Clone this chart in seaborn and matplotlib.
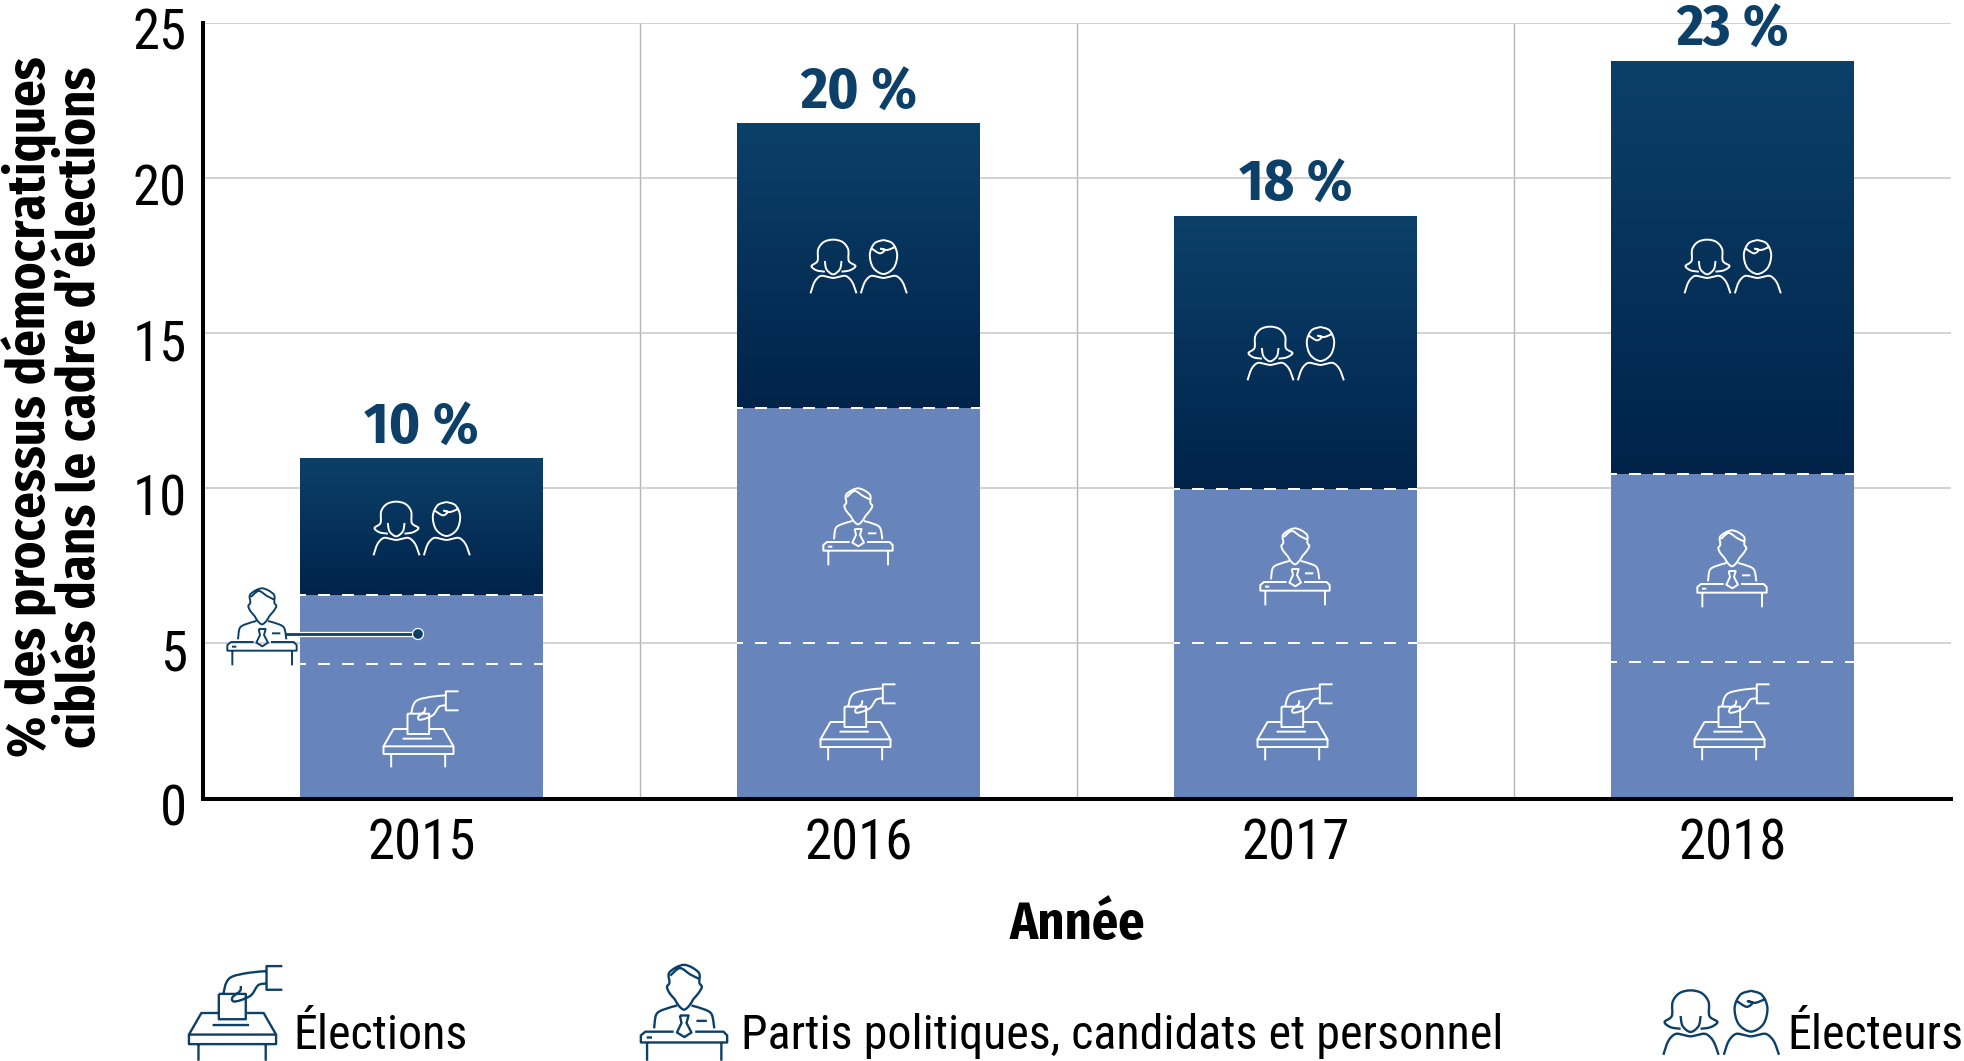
import numpy as np
import pandas as pd
import seaborn as sns
import matplotlib
matplotlib.use("Agg")
import matplotlib.pyplot as plt
from matplotlib.path import Path
from matplotlib.patches import PathPatch, Circle
from matplotlib.colors import LinearSegmentedColormap
from matplotlib.transforms import Affine2D, ScaledTranslation

years = ["2015", "2016", "2017", "2018"]
elections = [4.35, 5.0, 5.0, 4.4]
partis = [2.2, 7.58, 4.98, 6.05]
electeurs = [4.39, 9.16, 8.8, 13.3]
top_labels = ["10 %", "20 %", "18 %", "23 %"]
yticks = [0, 5, 10, 15, 20, 25]
legend_labels = ["Élections", "Partis politiques, candidats et personnel", "Électeurs"]
ylabel = "% des processus démocratiques\nciblés dans le cadre d’élections"
xlabel = "Année"

NAVY = "#0c4069"
NAVY_DK = "#00234a"
BLUE = "#6785ba"
GRID = "#c6c6c6"

sns.set_theme(style="white")
LIGHT = ["Roboto Condensed", "Liberation Sans", "DejaVu Sans"]
BOLD = ["Fira Sans Condensed", "Liberation Sans", "DejaVu Sans"]
plt.rcParams["font.family"] = LIGHT

W, H = 1964, 1061
fig = plt.figure(figsize=(W / 100, H / 100), dpi=100, facecolor="white")
L, R, T, B = 203, 1951, 23, 798.5
ax = fig.add_axes([L / W, 1 - B / H, (R - L) / W, (B - T) / H])

df = pd.DataFrame({"year": years, "el": elections, "pa": partis, "ev": electeurs})
low = df["el"].to_numpy()
mid = low + df["pa"].to_numpy()
bar_kw = dict(saturation=1, width=0.555, ax=ax, zorder=2, edgecolor="none", linewidth=0)
sns.barplot(data=df, x="year", y="el", color=BLUE, **bar_kw)
sns.barplot(data=df, x="year", y="pa", bottom=low, color=BLUE, **bar_kw)
sns.barplot(data=df, x="year", y="ev", bottom=mid, color=NAVY, **bar_kw)

ax.set_xlim(-0.5, 3.5)
ax.set_ylim(0, 25)
cmap = LinearSegmentedColormap.from_list("navy", [NAVY, NAVY_DK])
grad = np.linspace(0, 1, 256).reshape(-1, 1)
for p in ax.patches[-4:]:
    ax.imshow(grad, extent=[p.get_x(), p.get_x() + p.get_width(), p.get_y(), p.get_y() + p.get_height()],
              origin="upper", cmap=cmap, aspect="auto", zorder=2.5, interpolation="bilinear")
ax.set_xlim(-0.5, 3.5)
ax.set_ylim(0, 25)

bw = 0.555
for i in range(4):
    for v in (low[i], mid[i]):
        ax.plot([i - bw / 2, i + bw / 2], [v, v], color="white", lw=1.44,
                linestyle=(3, (6, 6)), zorder=3, dash_capstyle="butt")
    total = mid[i] + electeurs[i]
    ax.annotate(top_labels[i], (i, total), xytext=(0, 2), textcoords="offset points", ha="center",
                va="bottom", color=NAVY, fontsize=42, fontweight="bold", family=BOLD,
                annotation_clip=False, zorder=5)

ax.set_yticks(yticks)
ax.set_xticks([0.5, 1.5, 2.5], minor=True)
ax.grid(True, axis="y", color=GRID, lw=1.1, zorder=0)
ax.grid(True, axis="x", which="minor", color="#b4b4b4", lw=1.0, zorder=0)
ax.grid(False, axis="x", which="major")
ax.set_axisbelow(True)
for s in ("top", "right"):
    ax.spines[s].set_visible(False)
for s in ("left", "bottom"):
    ax.spines[s].set_linewidth(2.9)
    ax.spines[s].set_color("black")
ax.tick_params(axis="both", which="both", length=0)
ax.tick_params(axis="y", labelsize=39.5, pad=11.5, colors="black")
ax.tick_params(axis="x", labelsize=39.5, pad=14, colors="black")
down = ScaledTranslation(0, -6 / 100, fig.dpi_scale_trans)
for t in ax.get_yticklabels():
    t.set_transform(t.get_transform() + down)
ax.set_xlabel("")
ax.set_ylabel("")

fig.text(1077 / W, 1 - 925 / H, xlabel, ha="center", va="center", fontsize=37.5, fontweight="bold",
         family=BOLD, color="black")
fig.text(54 / W, 1 - 407 / H, ylabel, rotation=90, ha="center", va="center", ma="center",
         fontsize=37.7, fontweight="bold", family=BOLD, color="black", linespacing=0.98)


def smooth(pts):
    """Catmull-Rom stroke through the outline points of a pictogram."""
    pts = np.array(pts, float)
    verts, codes = [pts[0]], [Path.MOVETO]
    n = len(pts)
    for i in range(n - 1):
        p0, p1, p2, p3 = pts[max(i - 1, 0)], pts[i], pts[i + 1], pts[min(i + 2, n - 1)]
        verts += [p1 + (p2 - p0) / 6, p2 - (p3 - p1) / 6, p2]
        codes += [Path.CURVE4] * 3
    return verts, codes


def straight(pts):
    return [np.array(q, float) for q in pts], [Path.MOVETO] + [Path.LINETO] * (len(pts) - 1)


def build(curves, lines, cx, cy):
    V, C = [], []
    for c in curves:
        v, k = smooth(c)
        V += v; C += k
    for l in lines:
        v, k = straight(l)
        V += v; C += k
    V = np.array(V) - [cx, cy]
    return Path(V, C)


# pictogram outlines, in local units of one third of a pixel
shoulders = [(522, 402), (534, 368), (552, 350), (575, 353), (590, 356), (605, 353), (628, 350), (647, 368), (660, 402)]
voters = build(
    [[(565, 337), (540, 333), (525, 320), (543, 305), (545, 270), (562, 248), (590, 241), (618, 248), (635, 270), (637, 305), (657, 320), (640, 333), (615, 337)],
     [(565, 305), (570, 330), (590, 345), (610, 330), (615, 305)],
     shoulders,
     [(x + 151, y) for x, y in shoulders],
     [(741, 242), (768, 252), (782, 285), (772, 325), (741, 344), (710, 325), (700, 285), (714, 252), (741, 242)],
     [(706, 268), (730, 282), (745, 272), (733, 268), (752, 272), (778, 262)]],
    [], 666, 320)

person = build(
    [[(163, 585), (172, 600), (185, 610), (198, 600), (207, 585)],
     [(163, 585), (150, 570), (144, 555), (150, 545), (150, 520), (185, 502), (220, 520), (222, 545), (228, 555), (220, 570), (207, 585)],
     [(152, 528), (175, 510), (200, 525), (220, 535)],
     [(113, 655), (118, 622), (135, 610), (168, 600)],
     [(203, 600), (236, 610), (252, 622), (258, 655)]],
    [[(175, 624), (196, 624), (191, 642), (203, 665), (186, 676), (168, 665), (179, 642), (175, 624)],
     [(215, 637), (240, 637)],
     [(160, 663), (92, 663), (81, 672), (81, 689), (289, 689), (289, 672), (280, 663), (212, 663)],
     [(95, 677), (108, 677)],
     [(96, 689), (96, 733)],
     [(275, 689), (275, 733)]],
    185, 618)

ballot = build(
    [[(742, 832), (700, 836), (660, 845), (645, 860), (638, 887)],
     [(742, 862), (722, 866), (705, 890), (680, 902), (662, 905), (660, 895), (678, 880), (680, 868)]],
    [[(780, 820), (742, 820), (742, 877), (780, 877)],
     [(627, 887), (692, 887), (692, 948), (627, 948), (627, 887)],
     [(612, 962), (700, 962)],
     [(625, 933), (585, 933), (555, 985), (765, 985), (735, 933), (695, 933)],
     [(555, 985), (555, 1008), (765, 1008), (765, 985)],
     [(578, 1008), (578, 1048)],
     [(740, 1008), (740, 1048)]],
    666, 933)


def icon(path, x, y, color, scale=1 / 3, lw=1.4, z=6):
    tr = Affine2D().scale(scale, -scale).translate(x, H - y)
    fig.add_artist(PathPatch(path, transform=tr, fill=False, edgecolor=color, lw=lw, zorder=z,
                             capstyle="butt", joinstyle="round"))


centres_x = [421.5, 858.5, 1295.5, 1732.5]
voter_y = [528, 266, 353, 266]
person_pos = [(262, 627), (858, 527), (1295, 567), (1732, 569)]
ballot_y = [729, 722, 722, 722]

# leader line of the 2015 party segment
for col, w in (("white", 3.8), (NAVY, 2.0)):
    fig.add_artist(plt.Line2D([286, 418], [H - 634, H - 634], transform=None, color=col, lw=w, zorder=5))
fig.add_artist(Circle((418, H - 634), 5.5, transform=None, facecolor=NAVY, edgecolor="white", lw=0.9, zorder=5.5))

for i in range(4):
    icon(voters, centres_x[i], voter_y[i], "white")
    icon(ballot, centres_x[i] - 1, ballot_y[i], "white")
    colour = NAVY if i == 0 else "white"
    icon(person, person_pos[i][0], person_pos[i][1], colour)

icon(ballot, 235, 1013, NAVY, scale=0.415, lw=1.7)
icon(person, 684, 1013, NAVY, scale=0.415, lw=1.7)
icon(voters, 1721, 1022, NAVY, scale=0.40, lw=1.7)

for x, s in zip((293, 741, 1787), legend_labels):
    fig.text(x / W, 1 - 1036 / H, s, ha="left", va="center", fontsize=34.6, color="black")

fig.savefig("out.png", dpi=100, facecolor="white")
